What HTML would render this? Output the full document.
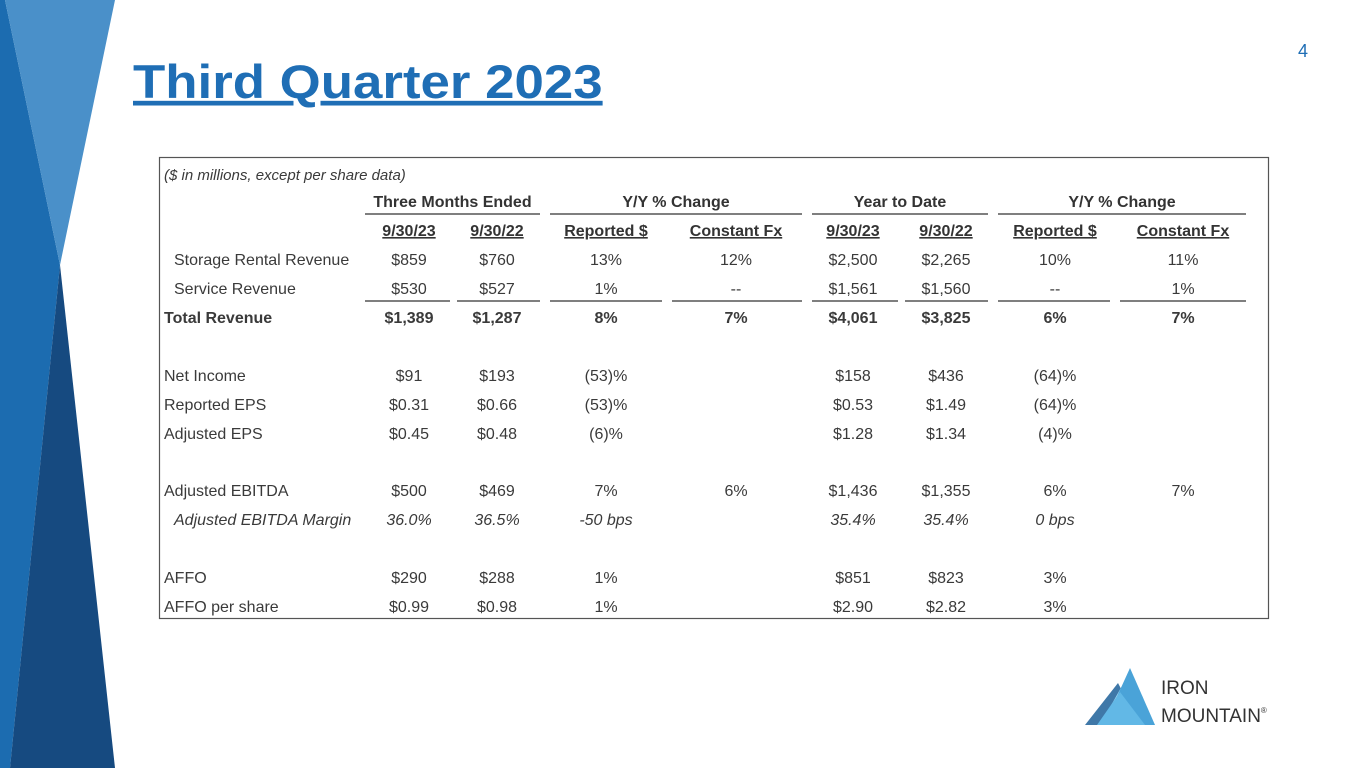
<!DOCTYPE html>
<html><head><meta charset="utf-8"><style>
html,body{margin:0;padding:0;background:#fff;}
body{width:1365px;height:768px;position:relative;overflow:hidden;font-family:"Liberation Sans",Arial,sans-serif;}
svg{position:absolute;left:0;top:0;}
</style></head><body>
<svg width="1365" height="768" viewBox="0 0 1365 768">
  <g>
    <polygon points="0,0 5,0 60,265 10,768 0,768" fill="#1c6cb0"/>
    <polygon points="5,0 115,0 60,265" fill="#4a90c9"/>
    <polygon points="60,265 115,768 10,768" fill="#164a80"/>
  </g>
  <g transform="translate(133 0) scale(1.124 1)">
    <text x="0" y="98" font-size="47" font-weight="bold" fill="#1f6eb5" text-decoration="underline">Third Quarter 2023</text>
  </g>
  <text x="1303" y="57" font-size="18" fill="#1f6eb5" text-anchor="middle">4</text>
  <rect x="159.5" y="157.5" width="1109" height="461" fill="#fff" stroke="#555" stroke-width="1.2"/>
  <g id="tbl"></g>
  <g>
    <polygon points="1085,725 1118,683 1140,725" fill="#3f78a8"/>
    <polygon points="1100,725 1127,677 1155,725" fill="#9fd6f2"/>
    <polygon points="1104,725 1130,668 1155,725" fill="#4aa3d8"/>
    <polygon points="1097,725 1120,692 1145,725" fill="#62b8e6"/>
    <text x="1161" y="694" font-size="19" fill="#333">IRON</text>
    <text x="1161" y="722" font-size="19" fill="#333">MOUNTAIN<tspan font-size="8" dy="-9">®</tspan></text>
  </g>
</svg>
<script>
const colX = [409, 497, 606, 736, 853, 946, 1055, 1183];
const rowLabels = ["Storage Rental Revenue","Service Revenue","Total Revenue","Net Income","Reported EPS","Adjusted EPS","Adjusted EBITDA","Adjusted EBITDA Margin","AFFO","AFFO per share"];
const rowY = [259, 288, 317, 375, 404, 433, 490, 519, 577, 606];
const rowValues = [
 ["$859","$760","13%","12%","$2,500","$2,265","10%","11%"],
 ["$530","$527","1%","--","$1,561","$1,560","--","1%"],
 ["$1,389","$1,287","8%","7%","$4,061","$3,825","6%","7%"],
 ["$91","$193","(53)%","","$158","$436","(64)%",""],
 ["$0.31","$0.66","(53)%","","$0.53","$1.49","(64)%",""],
 ["$0.45","$0.48","(6)%","","$1.28","$1.34","(4)%",""],
 ["$500","$469","7%","6%","$1,436","$1,355","6%","7%"],
 ["36.0%","36.5%","-50 bps","","35.4%","35.4%","0 bps",""],
 ["$290","$288","1%","","$851","$823","3%",""],
 ["$0.99","$0.98","1%","","$2.90","$2.82","3%",""]
];
const groupHeaders = ["Three Months Ended","Y/Y % Change","Year to Date","Y/Y % Change"];
const subHeaders = ["9/30/23","9/30/22","Reported $","Constant Fx","9/30/23","9/30/22","Reported $","Constant Fx"];
const NS="http://www.w3.org/2000/svg";
const g=document.getElementById('tbl');
function t(x,y,s,o){const e=document.createElementNS(NS,'text');e.setAttribute('x',x);e.setAttribute('y',y);e.setAttribute('font-size',o.size||16);e.setAttribute('fill',o.fill||'#3a3a3a');if(o.anchor)e.setAttribute('text-anchor',o.anchor);if(o.bold)e.setAttribute('font-weight','bold');if(o.italic)e.setAttribute('font-style','italic');if(o.ul)e.setAttribute('text-decoration','underline');e.textContent=s;g.appendChild(e);return e;}
function ln(x1,x2,y){const e=document.createElementNS(NS,'line');e.setAttribute('x1',x1);e.setAttribute('x2',x2);e.setAttribute('y1',y);e.setAttribute('y2',y);e.setAttribute('stroke','#333');e.setAttribute('stroke-width','1.3');g.appendChild(e);return e;}
let e=t(164,180,"($ in millions, except per share data)",{italic:true,size:15});


const gx=[[365,540],[550,802],[812,988],[998,1246]];
groupHeaders.forEach((h,i)=>{
 let el=t((gx[i][0]+gx[i][1])/2,207,h,{anchor:'middle',bold:true,size:16,fill:'#333'});
 
 
 let l=ln(gx[i][0],gx[i][1],214);
 
 
});
subHeaders.forEach((h,i)=>{
 let el=t(colX[i],236,h,{anchor:'middle',bold:true,size:16,ul:true,fill:'#333'});
 
 
});
const segs=[[365,450],[457,540],[550,662],[672,802],[812,898],[905,988],[998,1110],[1120,1246]];
segs.forEach(s=>{let l=ln(s[0],s[1],301);
 
 });
rowLabels.forEach((lab,r)=>{
 const y=rowY[r]+6;
 const indent=(r<2||r===7)?10:0;
 const bold=r===2, italic=r===7;
 let el=t(164+indent,y,lab,{bold:bold,italic:italic,size:16});
 
 
 rowValues[r].forEach((v,c)=>{
  if(!v)return;
  let c2=t(colX[c],y,v,{anchor:'middle',bold:bold,italic:italic,size:16});
  
  
 });
});
</script>
</body></html>
